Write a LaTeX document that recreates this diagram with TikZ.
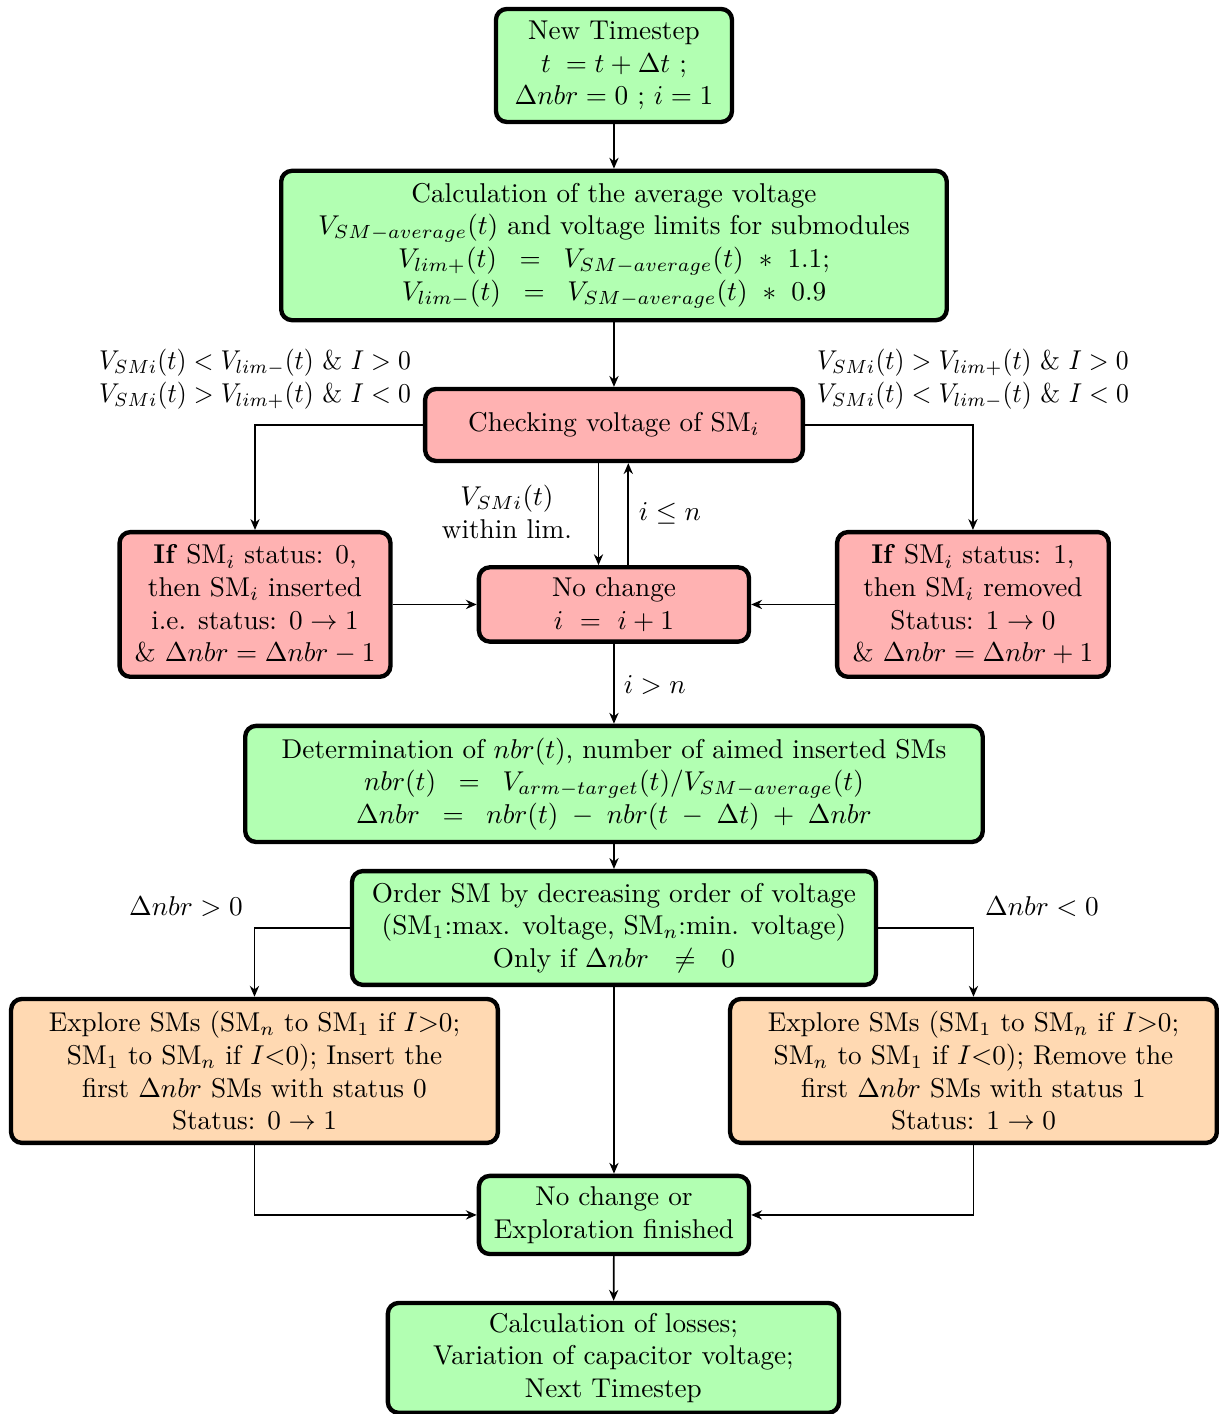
\documentclass[tikz,border=0pt]{standalone}
\usepackage{amsmath,amssymb}
\usepackage{tikz}
\usetikzlibrary{arrows.meta}

\begin{document}
\begin{tikzpicture}[>={Stealth[length=4pt,width=3.4pt]},
	box/.style={draw, ultra thick, rounded corners=4pt, align=center, inner sep=2pt},
	greenbox/.style={box, fill=green!30},
	redbox/.style={box, fill=red!30},
	orangebox/.style={box, fill=orange!30},
	cond/.style={align=center, xscale=0.94, transform shape},
	flow/.style={->, semithick}]
	\useasboundingbox (0,0) rectangle (15.75,-18.27);
	% main column
	\node[greenbox, minimum width=3.05cm, minimum height=1.46cm] (ts) at (7.933,-0.846) {New Timestep\\ $t\;=t+\Delta t$ ;\\ $\Delta nbr=0$ ; $i=1$};
	\node[greenbox, minimum width=8.6cm, minimum height=1.93cm] (avg) at (7.933,-3.172) {Calculation of the average voltage\\ $V_{SM-average}(t)$ and voltage limits for submodules\\ $V_{lim+}(t)\;\;=\;\;V_{SM-average}(t)\ *\ 1.1;$\\ $V_{lim-}(t)\;\;=\;\;V_{SM-average}(t)\ *\ 0.9$};
	\node[redbox, minimum width=4.88cm, minimum height=0.93cm] (chk) at (7.933,-5.491) {Checking voltage of SM$_i$};
	\node[redbox, minimum width=3.5cm, minimum height=1.87cm] (ins) at (3.295,-7.81) {\textbf{If} SM$_i$ status: 0,\\ then SM$_i$ inserted\\ i.e. status: $0\rightarrow1$\\ \& $\Delta nbr=\Delta nbr-1$};
	\node[redbox, minimum width=3.49cm, minimum height=0.96cm] (nc) at (7.933,-7.81) {No change\\ $i\ =\ i+1$};
	\node[redbox, minimum width=3.51cm, minimum height=1.87cm] (rem) at (12.571,-7.81) {\textbf{If} SM$_i$ status: 1,\\ then SM$_i$ removed\\ Status: $1\rightarrow0$\\ \& $\Delta nbr=\Delta nbr+1$};
	\node[greenbox, minimum width=9.53cm, minimum height=1.5cm] (det) at (7.933,-10.129) {Determination of $nbr(t)$, number of aimed inserted SMs\\ $nbr(t)\;\;=\;\;V_{arm-target}(t)/V_{SM-average}(t)$\\ $\Delta nbr\;\;=\;\;nbr(t)\;-\;nbr(t\;-\;\Delta t)\;+\;\Delta nbr$};
	\node[greenbox, minimum width=6.77cm, minimum height=1.47cm] (ord) at (7.933,-11.99) {Order SM by decreasing order of voltage\\ (SM$_1$:max. voltage, SM$_n$:min. voltage)\\ Only if $\Delta nbr\ \ \neq\ \ 0$};
	\node[orangebox, minimum width=6.29cm, minimum height=1.86cm] (expl) at (3.288,-13.837) {Explore SMs (SM$_n$ to SM$_1$ if $I{>}0$;\\ SM$_1$ to SM$_n$ if $I{<}0$); Insert the\\ first $\Delta nbr$ SMs with status 0\\ Status: $0\rightarrow1$};
	\node[orangebox, minimum width=6.29cm, minimum height=1.86cm] (expr) at (12.578,-13.837) {Explore SMs (SM$_1$ to SM$_n$ if $I{>}0$;\\ SM$_n$ to SM$_1$ if $I{<}0$); Remove the\\ first $\Delta nbr$ SMs with status 1\\ Status: $1\rightarrow0$};
	\node[greenbox, minimum width=3.49cm, minimum height=1.01cm] (fin) at (7.933,-15.698) {No change or\\ Exploration finished};
	\node[greenbox, minimum width=5.83cm, minimum height=1.42cm] (loss) at (7.926,-17.545) {Calculation of losses;\\ Variation of capacitor voltage;\\ Next Timestep};
	% conditions
	\node[cond] (cl) at (3.295,-4.897) {$V_{SMi}(t) < V_{lim-}(t)$ \& $I>0$\\ $V_{SMi}(t) > V_{lim+}(t)$ \& $I<0$};
	\node[cond] (cr) at (12.571,-4.897) {$V_{SMi}(t) > V_{lim+}(t)$ \& $I>0$\\ $V_{SMi}(t) < V_{lim-}(t)$ \& $I<0$};
	\node[align=center] (win) at (6.55,-6.615) {$V_{SMi}(t)$\\ within lim.};
	\node (le) at (8.656,-6.628) {$i\leq n$};
	\node (gt) at (8.46,-8.85) {$i>n$};
	\node (pos) at (2.403,-11.718) {$\Delta nbr>0$};
	\node (neg) at (13.463,-11.718) {$\Delta nbr<0$};
	% connectors
	\draw[flow] (ts) -- (avg);
	\draw[flow] (avg) -- (chk);
	\draw[flow] (chk.west) -| (ins.north);
	\draw[flow] (chk.east) -| (rem.north);
	\draw[flow] ([xshift=-0.2cm]chk.south) -- ([xshift=-0.2cm]nc.north);
	\draw[flow] ([xshift=0.185cm]nc.north) -- ([xshift=0.185cm]chk.south);
	\draw[flow] (ins) -- (nc);
	\draw[flow] (rem) -- (nc);
	\draw[flow] (nc) -- (det);
	\draw[flow] (det) -- (ord);
	\draw[flow] (ord.west) -| (expl.north);
	\draw[flow] (ord.east) -| (expr.north);
	\draw[flow] (ord) -- (fin);
	\draw[flow] (expl.south) |- (fin.west);
	\draw[flow] (expr.south) |- (fin.east);
	\draw[flow] (fin) -- (loss);
\end{tikzpicture}
\end{document}
